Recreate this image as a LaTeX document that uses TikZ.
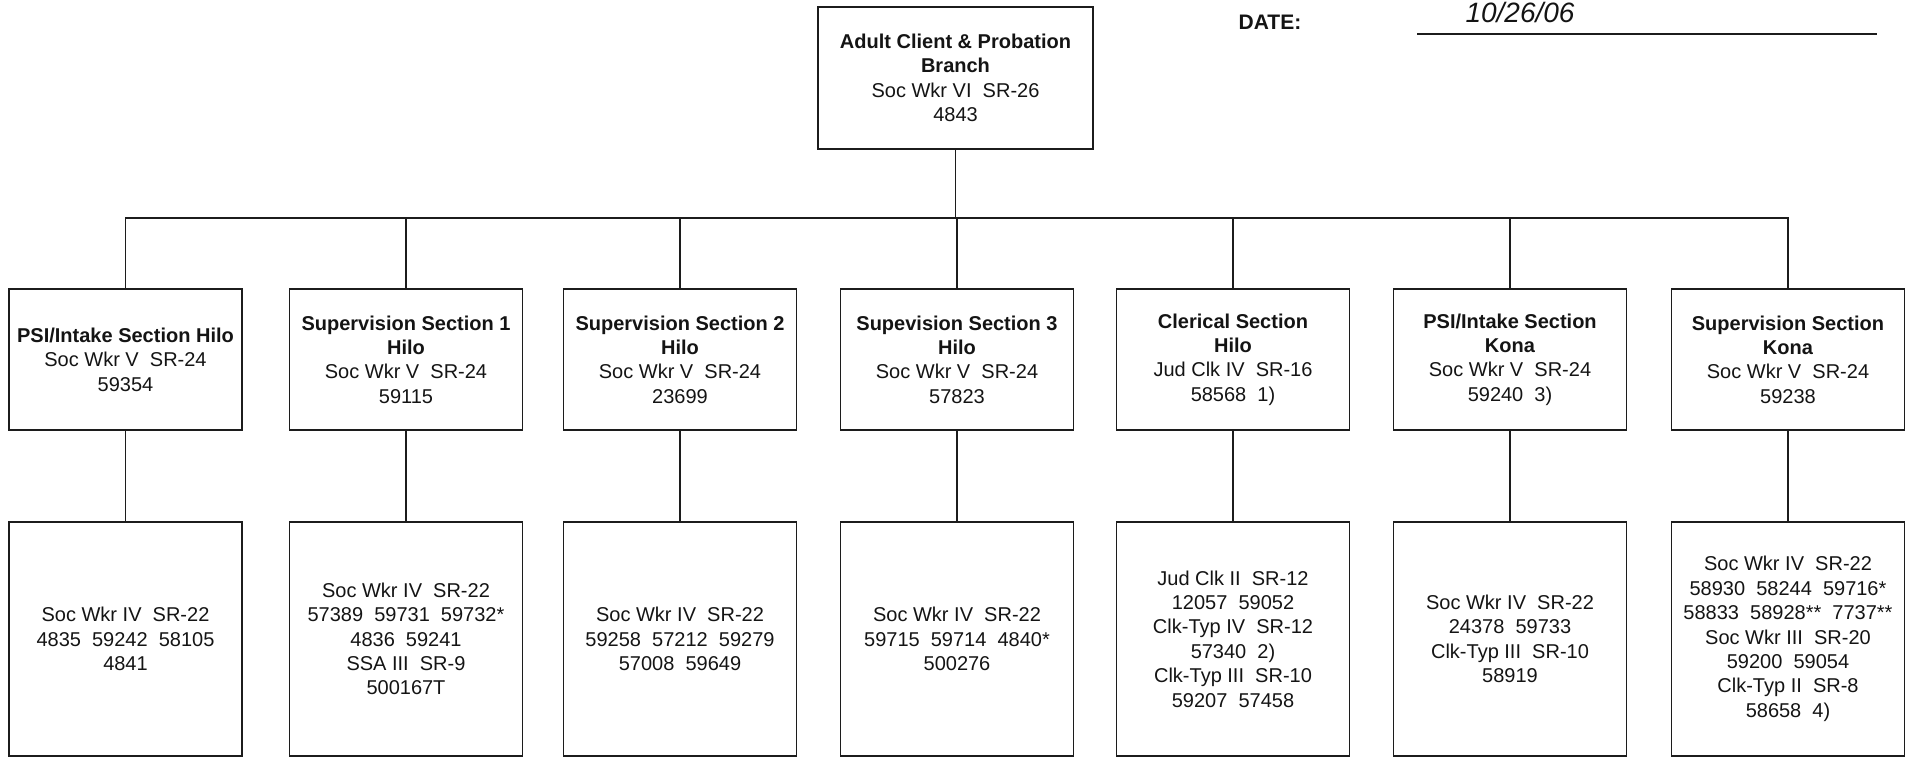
\documentclass[tikz,border=0pt]{standalone}
\usepackage{fontspec}
\setmainfont{Liberation Sans}
\usepackage{xcolor}
\usepackage{tikz}
\usetikzlibrary{calc,positioning}
\definecolor{boxline}{RGB}{28,28,28}
\definecolor{inkdark}{RGB}{20,20,20}

\begin{document}
\begin{tikzpicture}[x=0.5pt, y=-0.5pt,
  orgbox/.style={draw=boxline, line width=0.8pt, inner sep=1pt, align=center,
    text=inkdark, font=\fontsize{10}{12.2}\selectfont},
  secbox/.style={orgbox, minimum width=116.5pt, minimum height=70.5pt},
  staffbox/.style={orgbox, minimum width=116.5pt, minimum height=117pt},
  link/.style={draw=boxline, line width=0.8pt}
]
\useasboundingbox (0,0) rectangle (1911,757);
% Branch head (top centre) and the date line (top right)
\node[orgbox, minimum width=137.5pt, minimum height=71pt] (branch) at (955.5,78)
  {\textbf{Adult Client \& Probation}\\\textbf{Branch}\\Soc Wkr VI\ \ SR-26\\4843};
\node[font=\fontsize{10.5}{12}\selectfont\bfseries, text=inkdark] (datelbl) at (1270,22) {DATE:};
\coordinate (dateL) at (1417,34);
\coordinate (dateR) at (1877,34);
\draw[link, line width=1pt] (dateL) -- (dateR);
\node[font=\fontsize{14}{14}\selectfont\itshape, text=inkdark, anchor=south] (dateval)
  at (1520,30) {10/26/06};
% Sections (middle row), each with its staff box below
\foreach \n/\x/\head/\staff in {
  1/125.5/{\textbf{PSI/Intake Section Hilo}\\Soc Wkr V\ \ SR-24\\59354}/{Soc Wkr IV\ \ SR-22\\4835\ \ 59242\ \ 58105\\4841},
  2/406/{\textbf{Supervision Section 1}\\\textbf{Hilo}\\Soc Wkr V\ \ SR-24\\59115}/{Soc Wkr IV\ \ SR-22\\57389\ \ 59731\ \ 59732*\\4836\ \ 59241\\SSA III\ \ SR-9\\500167T},
  3/680/{\textbf{Supervision Section 2}\\\textbf{Hilo}\\Soc Wkr V\ \ SR-24\\23699}/{Soc Wkr IV\ \ SR-22\\59258\ \ 57212\ \ 59279\\57008\ \ 59649},
  4/957/{\textbf{Supevision Section 3}\\\textbf{Hilo}\\Soc Wkr V\ \ SR-24\\57823}/{Soc Wkr IV\ \ SR-22\\59715\ \ 59714\ \ 4840*\\500276},
  5/1233/{\textbf{Clerical Section}\\\textbf{Hilo}\\Jud Clk IV\ \ SR-16\\58568\ \ 1)}/{Jud Clk II\ \ SR-12\\12057\ \ 59052\\Clk-Typ IV\ \ SR-12\\57340\ \ 2)\\Clk-Typ III\ \ SR-10\\59207\ \ 57458},
  6/1510/{\textbf{PSI/Intake Section}\\\textbf{Kona}\\Soc Wkr V\ \ SR-24\\59240\ \ 3)}/{Soc Wkr IV\ \ SR-22\\24378\ \ 59733\\Clk-Typ III\ \ SR-10\\58919},
  7/1788/{\textbf{Supervision Section}\\\textbf{Kona}\\Soc Wkr V\ \ SR-24\\59238}/{Soc Wkr IV\ \ SR-22\\58930\ \ 58244\ \ 59716*\\58833\ \ 58928**\ \ 7737**\\Soc Wkr III\ \ SR-20\\59200\ \ 59054\\Clk-Typ II\ \ SR-8\\58658\ \ 4)}} {
  \node[secbox] (sec\n) at (\x,359.5) {\head};
  \node[staffbox] (staff\n) at (\x,639) {\staff};
  \draw[link] (sec\n.south) -- (staff\n.north);
}
% Bus from the branch down to the seven sections
\coordinate (bus) at (955.5,218);
\draw[link] (branch.south) -- (bus);
\draw[link] (sec1.north) |- (bus) -| (sec7.north);
\foreach \n in {2,...,6}
  \draw[link] (sec\n.north) -- (sec\n.north |- bus);
\end{tikzpicture}
\end{document}
